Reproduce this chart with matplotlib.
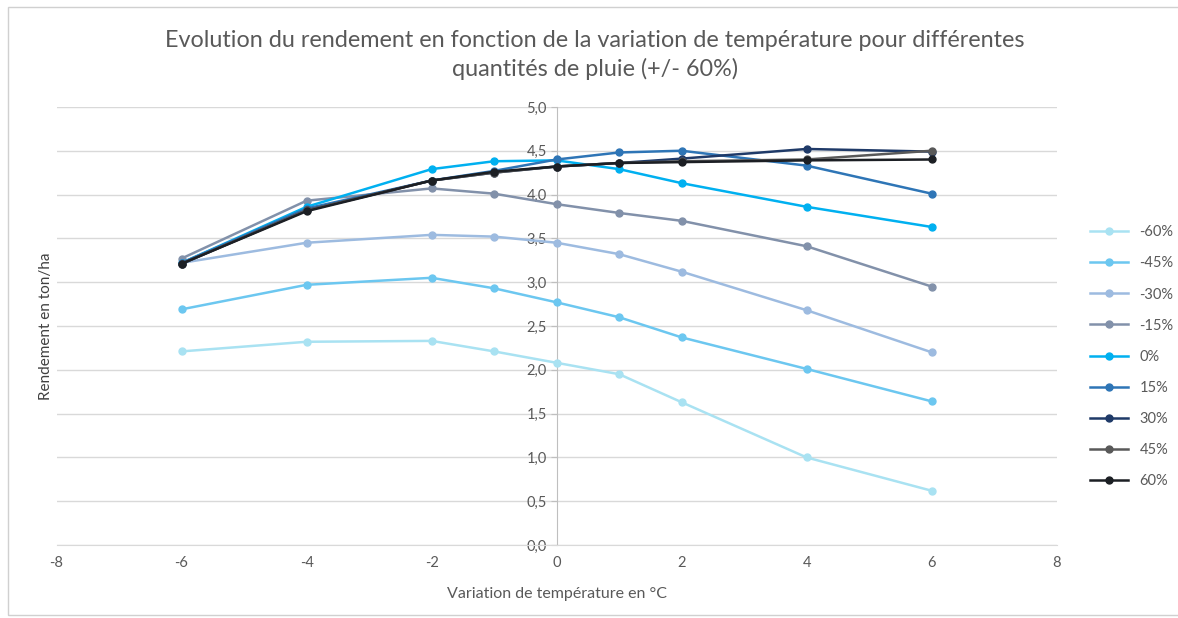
import matplotlib.pyplot as plt
from matplotlib.patches import Rectangle
from matplotlib.ticker import FuncFormatter

# Temperature variation (°C)
temp = [-6, -4, -2, -1, 0, 1, 2, 4, 6]

# Yield (ton/ha) for each rainfall variation
labels = ["-60%", "-45%", "-30%", "-15%", "0%", "15%", "30%", "45%", "60%"]
y_m60 = [2.21, 2.32, 2.33, 2.21, 2.08, 1.95, 1.63, 1.00, 0.62]
y_m45 = [2.69, 2.97, 3.05, 2.93, 2.77, 2.60, 2.37, 2.01, 1.64]
y_m30 = [3.22, 3.45, 3.54, 3.52, 3.45, 3.32, 3.12, 2.68, 2.20]
y_m15 = [3.27, 3.93, 4.07, 4.01, 3.89, 3.79, 3.70, 3.41, 2.95]
y_0 = [3.22, 3.86, 4.29, 4.38, 4.39, 4.29, 4.13, 3.86, 3.63]
y_p15 = [3.22, 3.84, 4.16, 4.27, 4.40, 4.48, 4.50, 4.33, 4.01]
y_p30 = [3.21, 3.82, 4.16, 4.25, 4.32, 4.36, 4.41, 4.52, 4.49]
y_p45 = [3.21, 3.82, 4.16, 4.25, 4.32, 4.36, 4.38, 4.40, 4.50]
y_p60 = [3.21, 3.81, 4.16, 4.26, 4.32, 4.36, 4.37, 4.39, 4.40]

series = [y_m60, y_m45, y_m30, y_m15, y_0, y_p15, y_p30, y_p45, y_p60]
colors = ["#a9e2f2", "#6cc7f0", "#9dbbe0", "#8291aa", "#00b0f0",
          "#2e75b6", "#1f3a68", "#595959", "#1c1f24"]

plt.rcParams['font.family'] = ['Lato', 'DejaVu Sans']
plt.rcParams['axes.unicode_minus'] = False

fig = plt.figure(figsize=(11.78, 6.18), dpi=100)
fig.patches.append(Rectangle((0.007, 0.005), 1.2, 0.983, transform=fig.transFigure,
                             fill=False, edgecolor="#d0d0d0", linewidth=1))
ax = fig.add_axes([0.048, 0.118, 0.849, 0.709])

for vals, lab, col in zip(series, labels, colors):
    ax.plot(temp, vals, color=col, linewidth=1.8, marker="o", markersize=5,
            label=lab, zorder=3)

ax.set_xlim(-8, 8)
ax.set_ylim(0, 5)
ax.set_xticks(range(-8, 9, 2))
ax.set_yticks([i * 0.5 for i in range(11)])
ax.yaxis.set_major_formatter(FuncFormatter(lambda v, p: f"{v:.1f}".replace(".", ",")))

ax.grid(axis="y", color="#d9d9d9", linewidth=1)
ax.set_axisbelow(True)
for s in ["top", "right"]:
    ax.spines[s].set_visible(False)
ax.spines["left"].set_position(("data", 0))
ax.spines["left"].set_color("#bfbfbf")
ax.spines["bottom"].set_color("#d9d9d9")
ax.tick_params(axis="both", colors="#595959", labelsize=10.5, length=0, pad=8)
ax.tick_params(axis="y", length=4, color="#bfbfbf", pad=3)

ax.set_xlabel("Variation de température en °C", color="#595959", fontsize=11.5,
              labelpad=12)
ax.set_ylabel("Rendement en ton/ha", color="#404040", fontsize=11)
ax.yaxis.set_label_coords(-0.004, 0.5, transform=ax.transAxes)

fig.suptitle("Evolution du rendement en fonction de la variation de température pour différentes\n"
             "quantités de pluie (+/- 60%)", color="#595959", fontsize=16.8,
             y=0.952, x=0.505, linespacing=1.4)

leg = ax.legend(loc="center left", bbox_to_anchor=(1.02, 0.43), frameon=False,
                fontsize=10.5, labelspacing=1.17, handlelength=2.6, labelcolor="#595959")

fig.savefig("out.png", dpi=100)
